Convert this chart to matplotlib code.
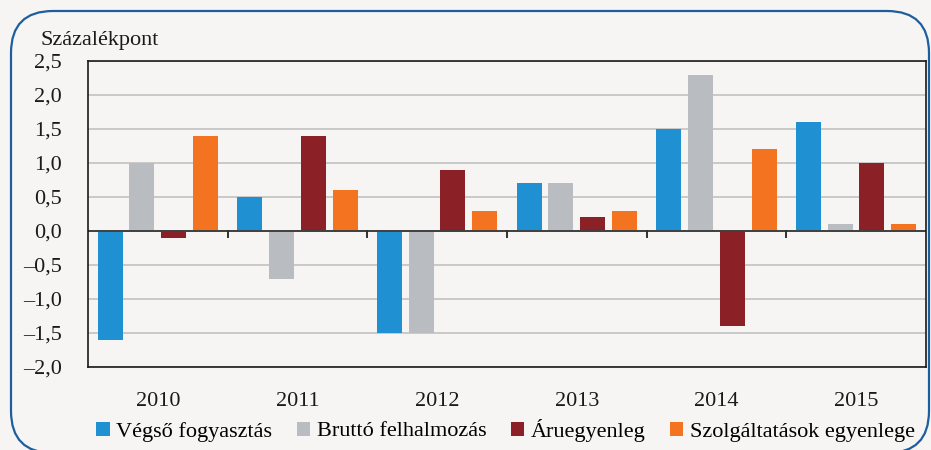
import numpy as np
import matplotlib
matplotlib.use("Agg")
import matplotlib.pyplot as plt
from matplotlib.patches import FancyBboxPatch
from matplotlib.transforms import IdentityTransform
from matplotlib.ticker import FuncFormatter

years = ["2010", "2011", "2012", "2013", "2014", "2015"]
vegso = [-1.6, 0.5, -1.5, 0.7, 1.5, 1.6]
brutto = [1.0, -0.7, -1.5, 0.7, 2.3, 0.1]
aru = [-0.1, 1.4, 0.9, 0.2, -1.4, 1.0]
szolg = [1.4, 0.6, 0.3, 0.3, 1.2, 0.1]
labels = ["Végső fogyasztás", "Bruttó felhalmozás", "Áruegyenleg",
          "Szolgáltatások egyenlege"]
colors = ["#1f90d2", "#b9bdc1", "#8b2127", "#f47321"]
y_ticks = [-2.0, -1.5, -1.0, -0.5, 0.0, 0.5, 1.0, 1.5, 2.0, 2.5]

plt.rcParams['font.family'] = ['Liberation Serif', 'DejaVu Serif']
bg = "#f6f5f3"
fs = 16

fig = plt.figure(figsize=(9.31, 4.5), dpi=100, facecolor=bg)
ax = fig.add_axes([0.0945, 0.1844, 0.9001, 0.68])
ax.set_facecolor(bg)

x = np.arange(len(years))
step = 0.227
width = 0.179
for i, (vals, lab, col) in enumerate(zip([vegso, brutto, aru, szolg], labels, colors)):
    ax.bar(x + (i - 1.5) * step, vals, width, color=col, label=lab, zorder=3)

ax.set_xlim(-0.5, len(years) - 0.5)
ax.set_ylim(-2.0, 2.5)
ax.set_yticks(y_ticks)
ax.yaxis.set_major_formatter(FuncFormatter(
    lambda v, p: f"{v:.1f}".replace('.', ',').replace('-', '\u2013')))
ax.set_xticks(x)
ax.set_xticklabels(years)
ax.tick_params(axis='both', length=0, labelsize=fs, colors='#1a1a1a')
ax.tick_params(axis='y', pad=19)
ax.tick_params(axis='x', pad=18)
ax.grid(axis='y', color='#c6c6c6', linewidth=1.3, zorder=0)
for s in ax.spines.values():
    s.set_color('#1a1a1a')
    s.set_linewidth(1.2)
    s.set_zorder(5)

# zero line with category separator ticks
ax.axhline(0, color='#404040', linewidth=1.4, zorder=4)
for b in np.arange(-0.5, len(years) + 0.5, 1.0)[1:-1]:
    ax.plot([b, b], [0, -0.09], color='#303030', linewidth=1.4, zorder=4)

fig.text(40 / 931, 1 - 41 / 450, "Százalékpont", fontsize=fs, va='center',
         ha='left', color='#1a1a1a')

fig.legend(loc='center', bbox_to_anchor=(0.543, 1 - 430 / 450), ncol=4,
           frameon=False, fontsize=fs, handlelength=0.6, handleheight=0.6,
           handletextpad=0.3, columnspacing=1.1, borderaxespad=0)

box = FancyBboxPatch((11, -3), 918, 442,
                     boxstyle="round,pad=0,rounding_size=42",
                     transform=IdentityTransform(), facecolor='none',
                     edgecolor='#1d5f9e', linewidth=1.6)
fig.patches.append(box)

fig.savefig("out.png", dpi=100, facecolor=bg)
